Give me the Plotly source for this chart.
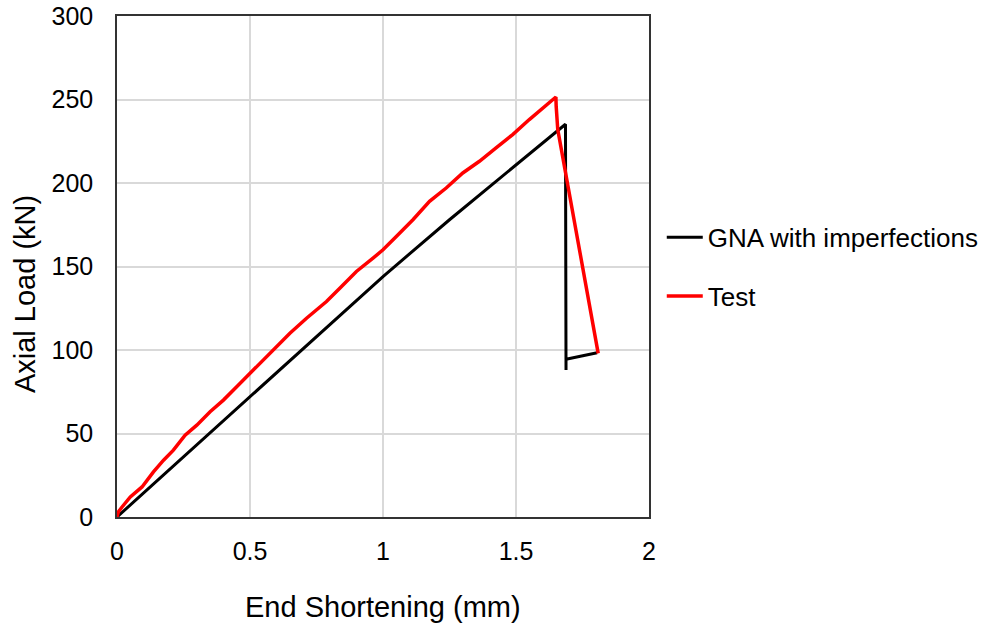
import plotly.graph_objects as go

# GNA with imperfections (black)
gna_x = [0, 0.25, 0.5, 0.75, 1.0, 1.25, 1.5, 1.686, 1.688, 1.688, 1.805]
gna_y = [0, 36, 72, 108, 144, 178, 210.5, 235.2, 88, 94.5, 98.3]

# Test (red)
test_x = [0, 0.005, 0.019, 0.05, 0.094, 0.137, 0.175, 0.212, 0.256, 0.30, 0.35,
          0.40, 0.45, 0.5, 0.587, 0.65, 0.7125, 0.7875, 0.8375, 0.90, 0.9625,
          1.0, 1.05, 1.1125, 1.175, 1.2375, 1.30, 1.3625, 1.425, 1.4875, 1.55,
          1.60, 1.650, 1.651, 1.653, 1.657, 1.809]
test_y = [0, 3, 6, 12, 18, 27, 34, 40, 49, 55, 63,
          70, 78, 86, 100, 110, 119, 129, 137, 147, 155,
          160, 168, 178, 189, 197, 206, 213, 221, 229, 238,
          244.5, 251.5, 246, 240, 232, 98]

x_ticks = [0, 0.5, 1, 1.5, 2]
x_labels = ["0", "0.5", "1", "1.5", "2"]
y_ticks = [0, 50, 100, 150, 200, 250, 300]

FONT = "Arial, Liberation Sans, sans-serif"

fig = go.Figure()
fig.add_trace(go.Scatter(x=gna_x, y=gna_y, mode="lines", name="GNA with imperfections",
                         line=dict(color="black", width=3), legendgroup="a"))
fig.add_trace(go.Scatter(x=test_x, y=test_y, mode="lines", name="Test",
                         line=dict(color="#ff0000", width=3.5), legendgroup="b"))

fig.update_layout(
    width=985, height=627,
    margin=dict(l=117, r=336, t=16, b=110, autoexpand=False),
    paper_bgcolor="white", plot_bgcolor="white",
    font=dict(family=FONT, size=25, color="black"),
    showlegend=True,
    legend=dict(x=1.024, y=0.605, xanchor="left", yanchor="top",
                font=dict(size=26, color="black"), tracegroupgap=22,
                itemwidth=36, bgcolor="rgba(0,0,0,0)"),
    xaxis=dict(range=[0, 2], tickvals=x_ticks, ticktext=x_labels,
               showgrid=True, gridcolor="#d9d9d9", gridwidth=1.5,
               showline=True, linecolor="#333333", linewidth=1.5, mirror=True,
               zeroline=False, ticks="", ticklabelstandoff=11, automargin=False),
    yaxis=dict(range=[0, 300], tickvals=y_ticks,
               showgrid=True, gridcolor="#d9d9d9", gridwidth=1.5,
               showline=True, linecolor="#333333", linewidth=1.5, mirror=True,
               zeroline=False, ticks="", ticklabelstandoff=17, automargin=False),
    annotations=[
        dict(text="End Shortening (mm)", xref="paper", yref="paper",
             x=0.5, y=-0.1796, xanchor="center", yanchor="middle",
             showarrow=False, font=dict(size=29, color="black")),
        dict(text="Axial Load (kN)", xref="paper", yref="paper",
             x=-0.1729, y=0.445, xanchor="center", yanchor="middle", textangle=-90,
             showarrow=False, font=dict(size=29, color="black")),
    ],
)

fig.write_html("out.html")
